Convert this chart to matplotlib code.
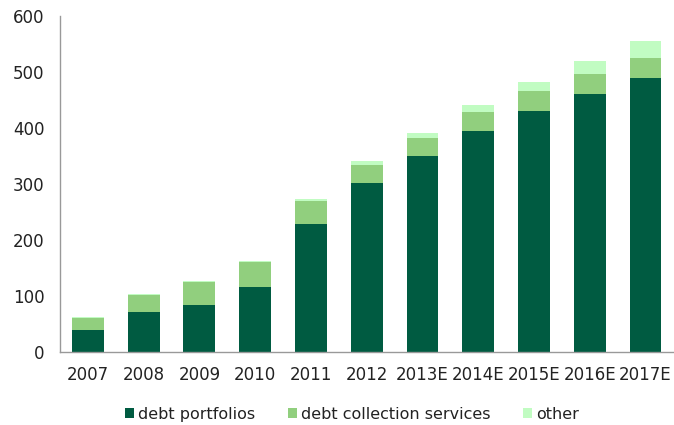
import matplotlib
matplotlib.use("Agg")
import matplotlib.pyplot as plt
import numpy as np

plt.rcParams['font.family'] = ['DejaVu Sans']

years = ["2007", "2008", "2009", "2010", "2011", "2012",
         "2013E", "2014E", "2015E", "2016E", "2017E"]
debt_portfolios = [39, 71, 83, 116, 228, 302, 350, 395, 430, 461, 489]
debt_collection = [21, 30, 42, 45, 42, 32, 32, 33, 36, 36, 37]
other = [1.5, 2, 2, 2, 3, 8, 10, 14, 17, 22, 29]

c_dark = "#005B41"
c_mid = "#91CF7E"
c_light = "#C1FCC2"

fig = plt.figure(figsize=(6.74, 4.25), dpi=100)
ax = fig.add_axes([0.089, 0.172, 0.91, 0.79])

x = np.arange(len(years))
w = 0.57
b1 = np.array(debt_portfolios, dtype=float)
b2 = b1 + np.array(debt_collection, dtype=float)
ax.bar(x, debt_portfolios, w, color=c_dark, label="debt portfolios")
ax.bar(x, debt_collection, w, bottom=b1, color=c_mid, label="debt collection services")
ax.bar(x, other, w, bottom=b2, color=c_light, label="other")

ax.set_xlim(-0.5, 10.5)
ax.set_ylim(0, 600)
ax.set_yticks(range(0, 601, 100))
ax.set_xticks(x)
ax.set_xticklabels(years)
ax.tick_params(axis='both', length=0, labelsize=12, colors="#222222")
ax.tick_params(axis='y', pad=11)
ax.tick_params(axis='x', pad=10)
for s in ["top", "right"]:
    ax.spines[s].set_visible(False)
for s in ["left", "bottom"]:
    ax.spines[s].set_color("#999999")
    ax.spines[s].set_linewidth(1)

ax.legend(loc="center", bbox_to_anchor=(0.476, -0.185), ncol=3, frameon=False,
          fontsize=11.5, handlelength=0.6, handleheight=0.6, handletextpad=0.25,
          columnspacing=2.0, labelcolor="#222222")

fig.savefig("out.png", dpi=100)
